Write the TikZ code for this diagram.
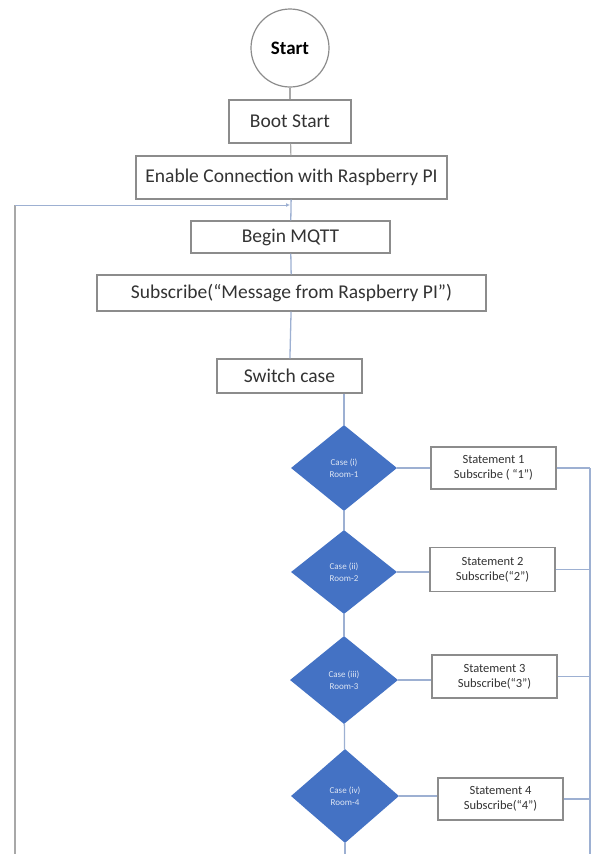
\documentclass[tikz,border=0pt]{standalone}
\usepackage{fontspec}
\setmainfont{Carlito}
\usetikzlibrary{shapes.geometric,arrows.meta}
\definecolor{boxline}{HTML}{8C8C8C}
\definecolor{txt}{HTML}{333333}
\definecolor{conn}{HTML}{9DB0D2}
\definecolor{dfill}{HTML}{4472C4}
\definecolor{dtext}{HTML}{DDE5F3}
\definecolor{leftline}{HTML}{A8A8A8}
\tikzset{
  procbox/.style={draw=boxline, line width=1.3pt, fill=white, text=txt, inner sep=2pt, font=\fontsize{19.5}{23}\selectfont},
  stmbox/.style={draw=boxline, line width=1.2pt, fill=white, text=txt, inner sep=2pt, align=center, font=\fontsize{12.5}{15}\selectfont},
  casedia/.style={diamond, fill=dfill, draw=none, inner sep=0pt, text=dtext, align=center, font=\fontsize{9}{12}\selectfont},
  conline/.style={draw=conn, line width=1.3pt},
  grayline/.style={draw=leftline, line width=1.2pt}
}
\begin{document}
\begin{tikzpicture}[x=1pt,y=-1pt]
\useasboundingbox (0,0) rectangle (594,854);
\fill[white] (0,0) rectangle (594,854);

% free ends of loop lines
\coordinate (ltop) at (15,205);
\coordinate (lbot) at (15,854);
\coordinate (fbin) at (290,205);
\coordinate (rtop) at (590,468);
\coordinate (rbot) at (590,854);
\coordinate (dbot) at (344,854);

% nodes
\node[circle, draw=boxline, line width=1.2pt, fill=white, minimum size=78pt, inner sep=0pt, text=black, font=\bfseries\fontsize{19}{22}\selectfont] (start) at (290,48) {Start};
\node[procbox, minimum width=122pt, minimum height=43pt] (boot) at (290,121.5) {Boot Start};
\node[procbox, minimum width=311pt, minimum height=43pt] (enable) at (291.5,177.5) {Enable Connection with Raspberry PI};
\node[procbox, minimum width=199pt, minimum height=32pt] (mqtt) at (290.5,237) {Begin MQTT};
\node[procbox, minimum width=389pt, minimum height=36pt] (sub) at (291.5,293) {Subscribe(“Message from Raspberry PI”)};
\node[procbox, minimum width=145pt, minimum height=34pt] (sw) at (289.5,376) {Switch case};

\node[casedia, minimum width=106pt, minimum height=86pt] (d1) at (344,468) {Case (i)\\Room-1};
\node[casedia, minimum width=106pt, minimum height=84pt] (d2) at (344,572) {Case (ii)\\Room-2};
\node[casedia, minimum width=108pt, minimum height=88pt] (d3) at (344,680) {Case (iii)\\Room-3};
\node[casedia, minimum width=108pt, minimum height=94pt] (d4) at (345,796) {Case (iv)\\Room-4};

\node[stmbox, minimum width=125pt, minimum height=42pt] (s1) at (493.5,468) {Statement 1\\Subscribe ( “1”)};
\node[stmbox, minimum width=125pt, minimum height=44pt] (s2) at (492.5,569.5) {Statement 2\\Subscribe(“2”)};
\node[stmbox, minimum width=125pt, minimum height=43pt] (s3) at (494.5,676.5) {Statement 3\\Subscribe(“3”)};
\node[stmbox, minimum width=125pt, minimum height=42pt] (s4) at (500.5,799) {Statement 4\\Subscribe(“4”)};

% connectors
\draw[grayline] (start) -- (boot);
\draw[grayline] (boot) -- (enable);
\draw[conline] (enable) -- (mqtt);
\draw[conline] (mqtt) -- (sub);
\draw[conline] (sub) -- (sw);
\draw[conline] (sw.south -| d1.north) -- (d1.north);
\draw[conline] (d1) -- (d2);
\draw[conline] (d2) -- (d3);
\draw[conline] (d3) -- (d4);
\draw[conline] (d4.south) -- (d4.south |- dbot);
\draw[conline] (d1.east) -- (s1.west);
\draw[conline] (d2.east) -- (d2.east -| s2.west);
\draw[conline] (d3.east) -- (d3.east -| s3.west);
\draw[conline] (d4.east) -- (d4.east -| s4.west);
\draw[conline] (s1.east) -- (rtop);
\draw[conline] (s2.east) -- (s2.east -| rtop);
\draw[conline] (s3.east) -- (s3.east -| rtop);
\draw[conline] (s4.east) -- (s4.east -| rtop);
\draw[conline] (rtop) -- (rbot);
\draw[draw=leftline, line width=2pt] (ltop) -- (lbot);
\draw[conline, line width=1pt, -{Latex[length=4pt,width=4pt]}] (ltop) -- (fbin);
\end{tikzpicture}
\end{document}
